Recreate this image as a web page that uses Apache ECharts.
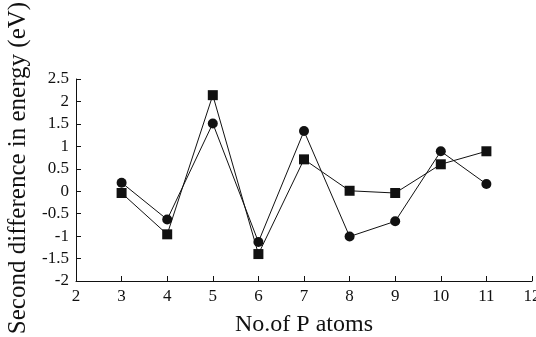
<!DOCTYPE html>
<html>
<head>
<meta charset="utf-8">
<script src="https://cdn.jsdelivr.net/npm/echarts@6/dist/echarts.min.js"></script>
<style>
  html, body { margin: 0; padding: 0; background: #fff; }
  #chart { width: 536px; height: 337px; }
</style>
</head>
<body>
<div id="chart"></div>
<script>
// number of P atoms
const atoms = [3, 4, 5, 6, 7, 8, 9, 10, 11];
// circles
const circleVals = [0.19, -0.63, 1.51, -1.13, 1.34, -1.01, -0.67, 0.89, 0.16];
// squares
const squareVals = [-0.04, -0.96, 2.14, -1.40, 0.71, 0.01, -0.04, 0.60, 0.89];

const font = "Liberation Serif";

const pairs = (ys) => atoms.map((x, i) => [x, ys[i]]);

const chart = echarts.init(document.getElementById("chart"));
chart.setOption({
  animation: false,
  backgroundColor: "#fff",
  grid: { left: 76, right: 4, top: 79, bottom: 56, outerBoundsMode: "none" },
  xAxis: {
    type: "value",
    min: 2,
    max: 12,
    interval: 1,
    name: "No.of P atoms",
    nameLocation: "middle",
    nameGap: 32,
    nameTextStyle: { fontFamily: font, fontSize: 24, color: "#111" },
    axisLine: { onZero: false, lineStyle: { color: "#111", width: 1 } },
    axisTick: { inside: true, length: 5, lineStyle: { color: "#111" } },
    axisLabel: { fontFamily: font, fontSize: 17, color: "#111", margin: 7 },
    splitLine: { show: false },
  },
  yAxis: {
    type: "value",
    min: -2,
    max: 2.5,
    interval: 0.5,
    name: "Second difference in energy (eV)",
    nameLocation: "middle",
    nameGap: 41,
    nameTextStyle: { fontFamily: font, fontSize: 25, color: "#111", padding: [0, 0, 0, 24] },
    axisLine: { show: true, onZero: false, lineStyle: { color: "#111", width: 1 } },
    axisTick: { show: true, inside: true, length: 5, lineStyle: { color: "#111" } },
    axisLabel: { fontFamily: font, fontSize: 17, color: "#111", margin: 7 },
    splitLine: { show: false },
  },
  series: [
    {
      name: "circle",
      type: "line",
      data: pairs(circleVals),
      symbol: "circle",
      symbolSize: 10,
      itemStyle: { color: "#111" },
      lineStyle: { color: "#111", width: 1 },
    },
    {
      name: "square",
      type: "line",
      data: pairs(squareVals),
      symbol: "rect",
      symbolSize: 10,
      itemStyle: { color: "#111" },
      lineStyle: { color: "#111", width: 1 },
    },
  ],
});
</script>
</body>
</html>
